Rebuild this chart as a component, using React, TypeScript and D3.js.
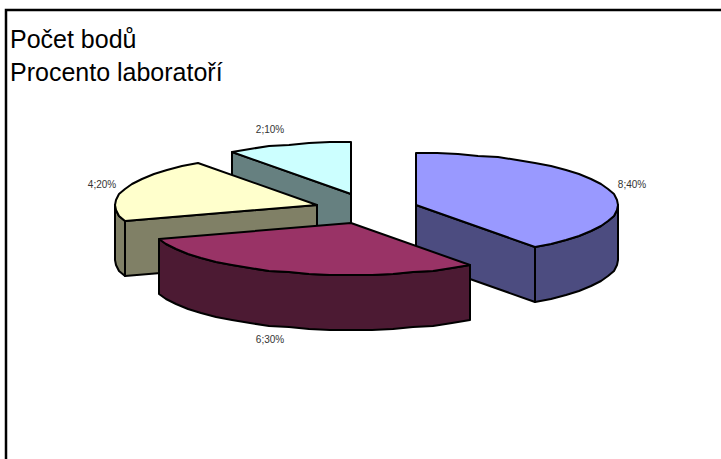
import React from "react";
import * as d3 from "d3";

const categories = ["8", "6", "4", "2"];
const values = [8, 6, 4, 2];
const percents = ["40%", "30%", "20%", "10%"];
const topColors = ["#9999FF", "#993366", "#FFFFCC", "#CCFFFF"];
const sideColors = ["#4C4C80", "#4C1A33", "#808066", "#668080"];
const centers: [number, number][] = [[416, 205], [351, 223], [317, 205], [351, 194]];
const labelPos: [number, number][] = [[632, 188], [270, 343], [102, 188], [270, 133]];
const drawOrder = [3, 2, 0, 1];
const titleLines = ["Počet bodů", "Procento laboratoří"];

const RX = 202, RY = 52, DEPTH = 55, STEP = Math.PI / 30;

export default function App() {
  const arcs = d3.pie<number>().sort(null)(values);
  const line = d3.line();
  const pt = (c: [number, number], a: number, dy = 0): [number, number] => [
    Math.round(c[0] + RX * Math.sin(a)),
    Math.round(c[1] - RY * Math.cos(a) + dy),
  ];
  const sample = (c: [number, number], a0: number, a1: number, dy = 0) => {
    const n = Math.max(1, Math.round((a1 - a0) / STEP));
    return d3.range(n + 1).map((i) => pt(c, a0 + ((a1 - a0) * i) / n, dy));
  };
  const PI = Math.PI;
  return (
    <svg width={721} height={459} style={{ position: "fixed", left: 0, top: 0, background: "#fff" }}
      fontFamily="'Liberation Sans', Arial, sans-serif">
      <path d="M6 459V10H721" fill="none" stroke="#000" strokeWidth={2.5} />
      {titleLines.map((t, i) => (
        <text key={t} x={10} y={48 + i * 33} fontSize={25} fill="#000">{t}</text>
      ))}
      {drawOrder.map((k) => {
        const d = arcs[k];
        const c = centers[k];
        const parts: [number, number][][] = [];
        const wallStart = Math.max(d.startAngle, PI / 2);
        const wallEnd = Math.min(d.endAngle, 1.5 * PI);
        if (wallEnd > wallStart) {
          const topEdge = sample(c, wallStart, wallEnd);
          const bottomEdge = sample(c, wallStart, wallEnd, DEPTH).reverse();
          parts.push([...topEdge, ...bottomEdge]);
        }
        if (d.startAngle > PI) {
          const p = pt(c, d.startAngle);
          parts.push([p, [c[0], c[1]], [c[0], c[1] + DEPTH], [p[0], p[1] + DEPTH]]);
        }
        if (d.endAngle < PI) {
          const p = pt(c, d.endAngle);
          parts.push([[c[0], c[1]], p, [p[0], p[1] + DEPTH], [c[0], c[1] + DEPTH]]);
        }
        const top: [number, number][] = [[c[0], c[1]], ...sample(c, d.startAngle, d.endAngle)];
        return (
          <g key={categories[k]} stroke="#000" strokeWidth={2} strokeLinejoin="round">
            {parts.map((p, i) => (
              <path key={i} d={line(p)! + "Z"} fill={sideColors[k]} />
            ))}
            <path d={line(top)! + "Z"} fill={topColors[k]} />
          </g>
        );
      })}
      {categories.map((cat, i) => (
        <text key={cat} x={labelPos[i][0]} y={labelPos[i][1]} fontSize={10} textAnchor="middle" fill="#333">
          {cat};{percents[i]}
        </text>
      ))}
    </svg>
  );
}
